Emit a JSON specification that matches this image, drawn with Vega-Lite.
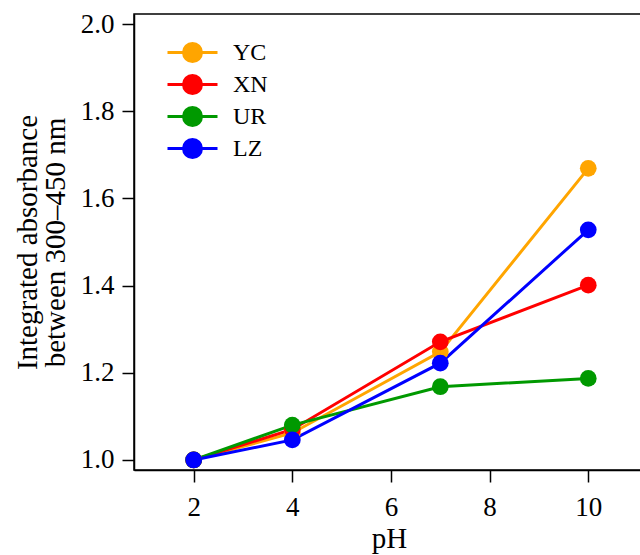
{
  "$schema": "https://vega.github.io/schema/vega-lite/v6.json",
  "autosize": {"type": "none"},
  "padding": {"left": 134, "top": 14, "right": 0, "bottom": 85},
  "width": 510,
  "height": 456,
  "background": "white",
  "config": {
    "font": "Liberation Serif",
    "view": {"stroke": "black", "strokeWidth": 1.5},
    "axis": {
      "labelFont": "Liberation Serif",
      "titleFont": "Liberation Serif",
      "labelFontSize": 27,
      "titleFontSize": 29,
      "titleFontWeight": "normal",
      "labelColor": "black",
      "titleColor": "black",
      "domainColor": "black",
      "tickColor": "black",
      "domainWidth": 1.5,
      "tickWidth": 1.5,
      "tickSize": 12,
      "grid": false
    },
    "legend": {
      "labelFont": "Liberation Serif",
      "labelFontSize": 24,
      "labelColor": "black"
    }
  },
  "data": {
    "values": [
      {"pH": 2, "value": 1.0, "sample": "YC"},
      {"pH": 4, "value": 1.062, "sample": "YC"},
      {"pH": 7, "value": 1.248, "sample": "YC"},
      {"pH": 10, "value": 1.669, "sample": "YC"},
      {"pH": 2, "value": 1.0, "sample": "XN"},
      {"pH": 4, "value": 1.07, "sample": "XN"},
      {"pH": 7, "value": 1.271, "sample": "XN"},
      {"pH": 10, "value": 1.401, "sample": "XN"},
      {"pH": 2, "value": 1.0, "sample": "UR"},
      {"pH": 4, "value": 1.08, "sample": "UR"},
      {"pH": 7, "value": 1.168, "sample": "UR"},
      {"pH": 10, "value": 1.187, "sample": "UR"},
      {"pH": 2, "value": 1.0, "sample": "LZ"},
      {"pH": 4, "value": 1.046, "sample": "LZ"},
      {"pH": 7, "value": 1.222, "sample": "LZ"},
      {"pH": 10, "value": 1.528, "sample": "LZ"}
    ]
  },
  "mark": {"type": "line", "strokeWidth": 3, "point": {"filled": true, "size": 280, "opacity": 1}},
  "encoding": {
    "x": {
      "field": "pH", "type": "quantitative",
      "scale": {"domain": [0.79, 11.13], "nice": false, "zero": false},
      "axis": {"values": [2, 4, 6, 8, 10], "title": "pH", "labelPadding": 12, "titlePadding": 4}
    },
    "y": {
      "field": "value", "type": "quantitative",
      "scale": {"domain": [0.977, 2.023], "nice": false, "zero": false},
      "axis": {"values": [1.0, 1.2, 1.4, 1.6, 1.8, 2.0], "format": ".1f", "title": ["Integrated absorbance", "between 300–450 nm"], "titleLineHeight": 28, "labelPadding": 8, "titlePadding": 10}
    },
    "color": {
      "field": "sample", "type": "nominal",
      "scale": {"domain": ["YC", "XN", "UR", "LZ"], "range": ["#FFA500", "#FF0000", "#009900", "#0000FF"]},
      "legend": {
        "title": null,
        "orient": "none",
        "legendX": 42,
        "legendY": 22,
        "symbolType": "M-1.667,0H1.667M-0.6,0A0.6,0.6 0 1,0 0.6,0A0.6,0.6 0 1,0 -0.6,0",
        "symbolSize": 900,
        "symbolStrokeWidth": 3,
        "labelOffset": 24,
        "rowPadding": 0,
        "encode": {
          "symbols": {"update": {"fill": {"scale": "color", "field": "value"}, "stroke": {"scale": "color", "field": "value"}, "opacity": {"value": 1}}}
        }
      }
    },
    "order": {"field": "pH"}
  }
}
